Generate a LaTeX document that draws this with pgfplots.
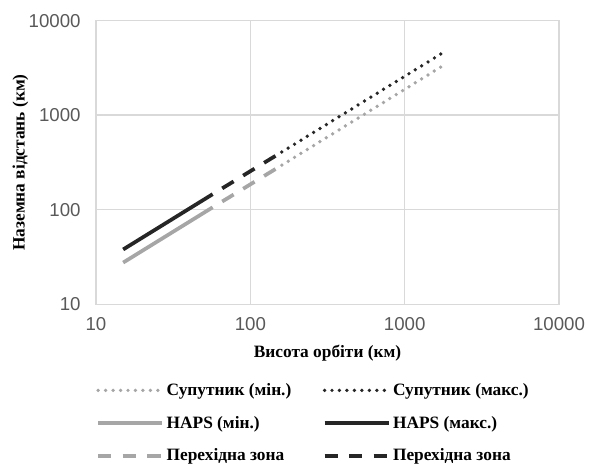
\documentclass[border=0pt]{standalone}
\usepackage{fontspec}
\setmainfont{Liberation Serif}
\newfontfamily\arial{Liberation Sans}
\usepackage{pgfplots}
\pgfplotsset{compat=1.18}
\definecolor{gridc}{HTML}{D9D9D9}
\definecolor{lgray}{HTML}{A6A6A6}
\definecolor{dk}{HTML}{262626}
\definecolor{tickc}{HTML}{595959}

\begin{document}
\begin{tikzpicture}
% page extent (589 x 466 px at 0.75pt/px)
\path[use as bounding box] (-72pt,-121.3pt) rectangle (369.75pt,228.2pt);
\begin{axis}[
  width=347.25pt, height=212.7pt, scale only axis,
  xmode=log, ymode=log,
  xmin=10, xmax=10000, ymin=10, ymax=10000,
  xtick={10,100,1000,10000}, xticklabels={10,100,1000,10000},
  ytick={10,100,1000,10000}, yticklabels={10,100,1000,10000},
  minor tick num=0, minor xtick={}, minor ytick={},
  grid=major, major grid style={gridc, line width=1.1pt},
  axis line style={gridc, line width=1.1pt},
  tick style={draw=none},
  tick label style={font=\arial\fontsize{14}{16}\selectfont, text=tickc},
  yticklabel style={xshift=-8pt},
  xticklabel style={yshift=-6.6pt},
  xlabel={Висота орбіти (км)},
  ylabel={Наземна відстань (км)},
  label style={font=\bfseries\fontsize{13}{15}\selectfont},
  xlabel style={at={(axis description cs:0.5,-0.1716)}, anchor=center},
  ylabel style={at={(axis description cs:-0.163,0.5)}, anchor=center},
  legend columns=2,
  legend image code/.code={\draw[#1, dash phase=0pt] (0pt,0pt) -- (48pt,0pt);},
  legend style={at={(axis description cs:0,-0.278)}, anchor=north west,
    draw=none, fill=none, inner sep=0pt, row sep=14pt,
    font=\bfseries\fontsize{13}{15}\selectfont,
    nodes={inner sep=0pt},
    /tikz/every odd column/.append style={column sep=2pt}},
  legend cell align=left,
]
% satellite (dotted)
\addplot[lgray, line width=2.8pt, line cap=round, dash pattern=on 0pt off 5.6pt]
  coordinates {(160,296) (1850,3490)};
\addlegendentry{\makebox[117pt][l]{Супутник (мін.)}}
\addplot[dk, line width=2.8pt, line cap=round, dash pattern=on 0pt off 5.6pt]
  coordinates {(160,408) (1850,4790)};
\addlegendentry{Супутник (макс.)}
% HAPS (solid)
\addplot[lgray, line width=2.8pt]
  coordinates {(15,27.6) (57,106)};
\addlegendentry{\makebox[117pt][l]{HAPS (мін.)}}
\addplot[dk, line width=2.8pt]
  coordinates {(15,38) (57,146)};
\addlegendentry{HAPS (макс.)}
% transition zone (dashed)
\addplot[lgray, line width=2.8pt, dash pattern=on 10pt off 8.4pt, dash phase=10pt]
  coordinates {(57,106) (160,296)};
\addlegendentry{\makebox[117pt][l]{Перехідна зона}}
\addplot[dk, line width=2.8pt, dash pattern=on 10pt off 8.4pt, dash phase=10pt]
  coordinates {(57,146) (160,408)};
\addlegendentry{Перехідна зона}
\end{axis}
\end{tikzpicture}
\end{document}
